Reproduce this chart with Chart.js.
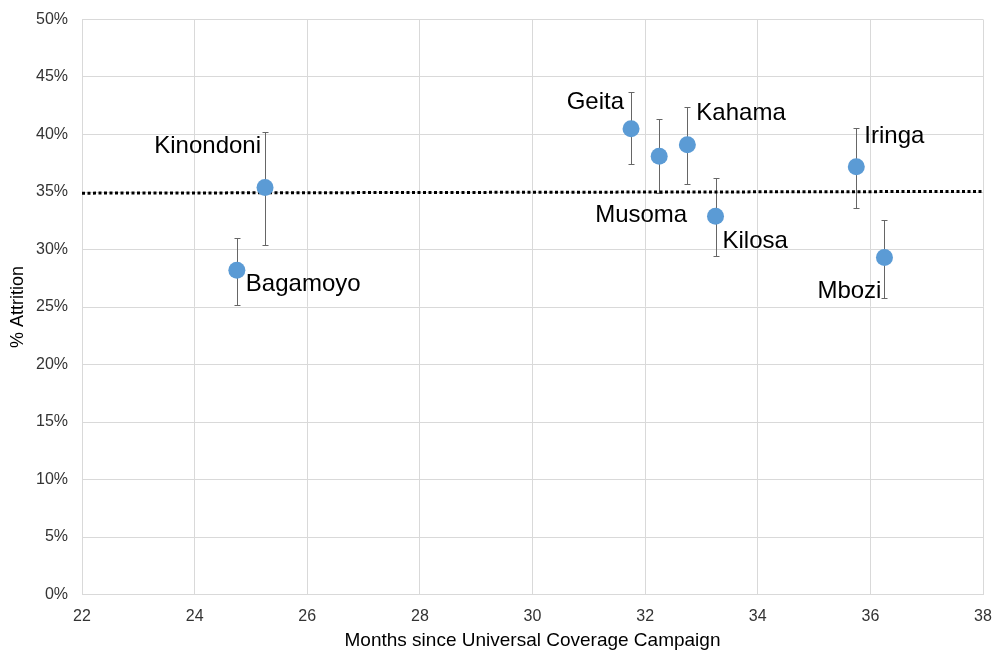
<!DOCTYPE html>
<html><head><meta charset="utf-8">
<script src="https://cdn.jsdelivr.net/npm/chart.js@4/dist/chart.umd.min.js"></script>
<style>html,body{margin:0;padding:0;background:#fff}#wrap{width:994px;height:652px}</style>
</head><body><div id="wrap"><canvas id="c"></canvas></div>
<script>
const districts = ["Bagamoyo","Kinondoni","Geita","Musoma","Kahama","Kilosa","Iringa","Mbozi"];
const months    = [24.75, 25.25, 31.75, 32.25, 32.75, 33.25, 35.75, 36.25];
const attrition = [28.2, 35.4, 40.5, 38.1, 39.1, 32.9, 37.2, 29.3];
const errUpper  = [31.0, 40.2, 43.7, 41.35, 42.4, 36.2, 40.6, 32.6];
const errLower  = [25.2, 30.4, 37.4, 34.9, 35.7, 29.4, 33.6, 25.8];
const trendX    = [22, 38];
const trendY    = [34.9, 35.05];
const xTicks    = [22,24,26,28,30,32,34,36,38];
const yTicks    = [0,5,10,15,20,25,30,35,40,45,50];

// label placement: [dx, dy, align]
const labelPos = {
  Bagamoyo:[9,14,"left"], Kinondoni:[-4,-41,"right"], Geita:[-7,-26,"right"],
  Musoma:[28,59,"right"], Kahama:[9,-31,"left"], Kilosa:[7,25,"left"],
  Iringa:[8,-30,"left"], Mbozi:[-3,34,"right"]
};

const overlay = {
  id:"overlay",
  beforeDatasetsDraw(chart){
    const {ctx, scales:{x,y}} = chart;
    ctx.save();
    ctx.strokeStyle="#666666"; ctx.lineWidth=1;
    months.forEach((m,i)=>{
      const px=Math.round(x.getPixelForValue(m))+0.5;
      const t=Math.round(y.getPixelForValue(errUpper[i]))+0.5, b=Math.round(y.getPixelForValue(errLower[i]))+0.5;
      ctx.beginPath();
      ctx.moveTo(px,t); ctx.lineTo(px,b);
      ctx.moveTo(px-3,t); ctx.lineTo(px+3,t);
      ctx.moveTo(px-3,b); ctx.lineTo(px+3,b);
      ctx.stroke();
    });
    ctx.restore();
  },
  afterDatasetsDraw(chart){
    const {ctx, scales:{x,y}} = chart;
    ctx.save();
    ctx.font='24px "Liberation Sans", Arial, sans-serif';
    ctx.fillStyle="#000"; ctx.textBaseline="middle";
    districts.forEach((d,i)=>{
      const p=labelPos[d];
      ctx.textAlign=p[2];
      ctx.fillText(d, x.getPixelForValue(months[i])+p[0], y.getPixelForValue(attrition[i])+p[1]);
    });
    ctx.restore();
  }
};

const fam = '"Liberation Sans", Arial, sans-serif';
const font = {family:fam, size:16};
new Chart(document.getElementById("c"),{
  type:"scatter",
  data:{datasets:[
    {label:"Attrition", data:months.map((m,i)=>({x:m,y:attrition[i]})),
     backgroundColor:"#5B9BD5", borderColor:"#5B9BD5", borderWidth:0, pointRadius:8.5, pointHoverRadius:8.5, order:1},
    {label:"Trend", type:"line", data:trendX.map((t,i)=>({x:t,y:trendY[i]})),
     borderColor:"#000", borderWidth:3, borderDash:[3,2.5], pointRadius:0, fill:false, order:2}
  ]},
  options:{
    responsive:true, maintainAspectRatio:false, animation:false,
    layout:{padding:{top:19.5,right:11,left:0,bottom:0}},
    plugins:{legend:{display:false}, tooltip:{enabled:false}},
    scales:{
      x:{type:"linear", min:22, max:38,
        afterBuildTicks(s){ s.ticks = xTicks.map(v=>({value:v})); },
        afterFit(s){ s.height=57.5; s.paddingLeft=0; s.paddingRight=0; },
        grid:{color:"#d9d9d9", drawTicks:false, lineWidth:1},
        border:{color:"#d9d9d9"},
        ticks:{font, color:"#333333", padding:12},
        title:{display:true, text:"Months since Universal Coverage Campaign", font:{family:fam,size:19}, color:"#000", padding:{top:0,bottom:0}}
      },
      y:{min:0, max:50,
        afterBuildTicks(s){ s.ticks = yTicks.map(v=>({value:v})); },
        afterFit(s){ s.width=82; s.paddingTop=0; s.paddingBottom=0; },
        grid:{color:"#d9d9d9", drawTicks:false, lineWidth:1},
        border:{color:"#d9d9d9"},
        ticks:{font, color:"#333333", padding:14, callback:v=>v+"%"},
        title:{display:true, text:"% Attrition", font:{family:fam,size:18}, color:"#000", padding:{top:7,bottom:0}}
      }
    }
  },
  plugins:[overlay]
});
</script></body></html>
